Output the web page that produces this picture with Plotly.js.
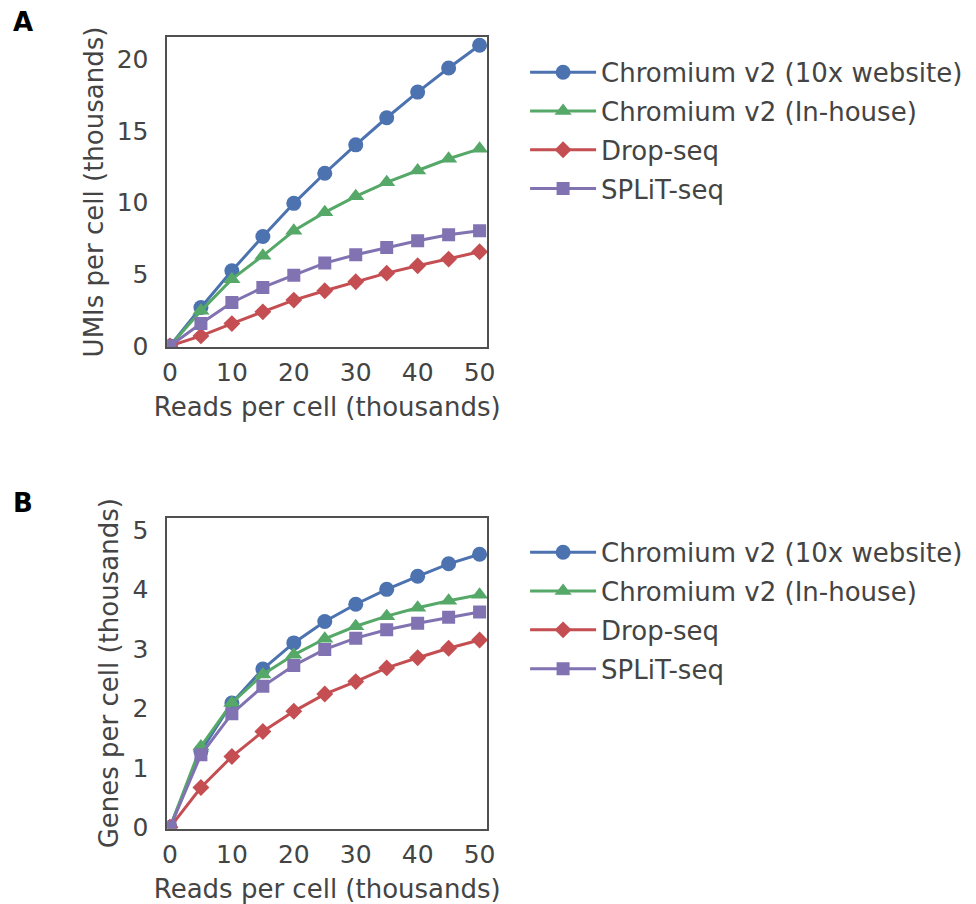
<!DOCTYPE html>
<html>
<head>
<meta charset="utf-8">
<script src="https://cdn.plot.ly/plotly-3.0.1.min.js"></script>
<style>html,body{margin:0;padding:0;background:#fff;}#chart{width:976px;height:904px;}</style>
</head>
<body>
<div id="chart"></div>
<script>
// ---- data ----
const reads = [0, 5, 10, 15, 20, 25, 30, 35, 40, 45, 50];
const seriesNames = ["Chromium v2 (10x website)", "Chromium v2 (In-house)", "Drop-seq", "SPLiT-seq"];

// Panel A: UMIs per cell (thousands)
const umiChromiumWeb   = [0, 2.68, 5.24, 7.64, 9.95, 12.05, 14.03, 15.92, 17.71, 19.39, 20.98];
const umiChromiumHouse = [0, 2.45, 4.66, 6.29, 8.04, 9.32, 10.44, 11.42, 12.24, 13.06, 13.75];
const umiDropseq       = [0, 0.70, 1.56, 2.38, 3.20, 3.85, 4.48, 5.08, 5.59, 6.06, 6.57];
const umiSplitseq      = [0, 1.56, 3.03, 4.08, 4.94, 5.78, 6.36, 6.87, 7.34, 7.76, 8.04];

// Panel B: Genes per cell (thousands)
const geneChromiumWeb   = [0, 1.28, 2.09, 2.66, 3.10, 3.46, 3.75, 4.00, 4.22, 4.43, 4.59];
const geneChromiumHouse = [0, 1.36, 2.09, 2.57, 2.90, 3.17, 3.38, 3.55, 3.69, 3.81, 3.91];
const geneDropseq       = [0, 0.67, 1.19, 1.61, 1.95, 2.24, 2.45, 2.68, 2.85, 3.01, 3.15];
const geneSplitseq      = [0, 1.22, 1.91, 2.37, 2.72, 2.99, 3.18, 3.32, 3.43, 3.53, 3.62];

const xTickVals = [0, 10, 20, 30, 40, 50];
const yTickValsA = [0, 5, 10, 15, 20];
const yTickValsB = [0, 1, 2, 3, 4, 5];

// ---- styles ----
const colors = ["#4C72B0", "#55A868", "#C44E52", "#8172B2"];
const symbols = ["circle", "triangle-up", "diamond", "square"];
const sizes = [15, 15, 13, 13];
const textColor = "#444444";
const FONT = "DejaVu Sans, sans-serif";

const dataA = [umiChromiumWeb, umiChromiumHouse, umiDropseq, umiSplitseq];
const dataB = [geneChromiumWeb, geneChromiumHouse, geneDropseq, geneSplitseq];

const traces = [];
dataA.forEach((ys, i) => traces.push({
  x: reads, y: ys, name: seriesNames[i], type: "scatter", mode: "lines+markers",
  xaxis: "x", yaxis: "y", legend: "legend", legendgroup: "a" + i,
  line: {color: colors[i], width: 3},
  marker: {color: colors[i], symbol: symbols[i], size: sizes[i], line: {width: 0}}
}));
dataB.forEach((ys, i) => traces.push({
  x: reads, y: ys, name: seriesNames[i], type: "scatter", mode: "lines+markers",
  xaxis: "x2", yaxis: "y2", legend: "legend2", legendgroup: "b" + i,
  line: {color: colors[i], width: 3},
  marker: {color: colors[i], symbol: symbols[i], size: sizes[i], line: {width: 0}}
}));

const axisCommon = {
  showgrid: false, zeroline: false, showline: true, mirror: true,
  linecolor: "#505050", linewidth: 2, ticks: "",
  tickfont: {family: FONT, size: 25, color: textColor},
  fixedrange: true
};
const legendCommon = {
  font: {family: FONT, size: 26, color: textColor},
  xanchor: "left", yanchor: "top", bgcolor: "rgba(0,0,0,0)",
  itemwidth: 66, tracegroupgap: 2, traceorder: "grouped"
};

const layout = {
  width: 976, height: 904,
  margin: {l: 0, r: 0, t: 0, b: 0},
  paper_bgcolor: "#fff", plot_bgcolor: "#fff",
  font: {family: FONT, color: textColor},
  showlegend: true,
  xaxis: Object.assign({}, axisCommon, {
    domain: [0.1716, 0.499], range: [-0.4, 51.2], tickvals: xTickVals, anchor: "y",
    ticklabelstandoff: 2,
    title: {text: "Reads per cell (thousands)", font: {family: FONT, size: 26, color: textColor}, standoff: 12}
  }),
  yaxis: Object.assign({}, axisCommon, {
    domain: [0.6162, 0.959], range: [-0.07, 21.55], tickvals: yTickValsA, anchor: "x",
    ticklabelstandoff: 12,
    title: {text: "UMIs per cell (thousands)", font: {family: FONT, size: 26, color: textColor}, standoff: 6}
  }),
  xaxis2: Object.assign({}, axisCommon, {
    domain: [0.1716, 0.499], range: [-0.4, 51.2], tickvals: xTickVals, anchor: "y2",
    ticklabelstandoff: 2,
    title: {text: "Reads per cell (thousands)", font: {family: FONT, size: 26, color: textColor}, standoff: 12}
  }),
  yaxis2: Object.assign({}, axisCommon, {
    domain: [0.0835, 0.427], range: [-0.02, 5.2], tickvals: yTickValsB, anchor: "x2",
    ticklabelstandoff: 12,
    title: {text: "Genes per cell (thousands)", font: {family: FONT, size: 26, color: textColor}, standoff: 6}
  }),
  legend: Object.assign({}, legendCommon, {x: 0.538, y: 0.946}),
  legend2: Object.assign({}, legendCommon, {x: 0.538, y: 0.415}),
  annotations: [
    {text: "<b>A</b>", xref: "paper", yref: "paper", x: 0.011, y: 0.994, xanchor: "left", yanchor: "top",
     showarrow: false, font: {family: FONT, size: 26, color: "#000"}},
    {text: "<b>B</b>", xref: "paper", yref: "paper", x: 0.011, y: 0.462, xanchor: "left", yanchor: "top",
     showarrow: false, font: {family: FONT, size: 26, color: "#000"}}
  ]
};

Plotly.newPlot("chart", traces, layout, {displayModeBar: false, staticPlot: true});
</script>
</body>
</html>
